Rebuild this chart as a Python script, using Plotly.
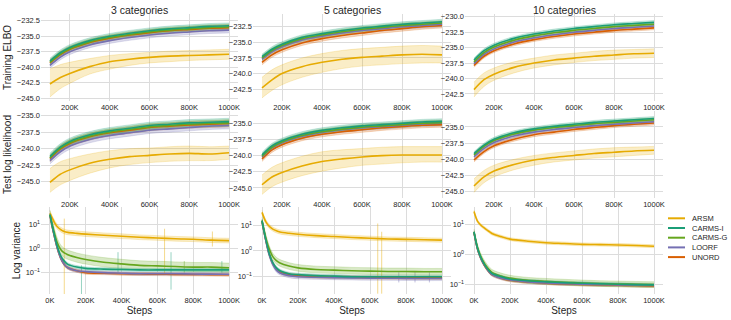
"""Training curves for five gradient estimators, 3 x 3 grid of panels."""

import plotly.graph_objects as go
from plotly.subplots import make_subplots

SERIES = ["ARSM", "CARMS-I", "CARMS-G", "LOORF", "UNORD"]
COLORS = ["#e6ab02", "#1b9e77", "#66a61e", "#7570b3", "#d95f02"]
FILLS = ["rgba(230,171,2,0.22)", "rgba(27,158,119,0.25)", "rgba(102,166,30,0.25)",
         "rgba(117,112,179,0.25)", "rgba(217,95,2,0.25)"]
COL_TITLES = ["3 categories", "5 categories", "10 categories"]
ROW_TITLES = ["Training ELBO", "Test log likelihood", "Log variance"]

# steps in thousands
STEPS_TOP = [100, 150, 200, 300, 400, 500, 600, 700, 800, 900, 1000]
STEPS_BOT = [0, 20, 40, 60, 80, 100, 150, 200, 300, 400, 500, 600, 700, 800, 900, 1000]

# ---- Training ELBO, 3 categories
elbo3_arsm = [-242.7, -241.7, -241.0, -239.9, -239.1, -238.7, -238.4, -238.2, -238.1, -238.0, -237.9]
elbo3_arsm_lo = [-244.8, -243.5, -242.6, -241.1, -240.3, -239.7, -239.3, -239.1, -238.9, -238.8, -238.7]
elbo3_arsm_hi = [-240.3, -239.6, -239.2, -238.6, -238.1, -237.8, -237.6, -237.4, -237.3, -237.2, -237.1]
elbo3_carms_i = [-239.0, -237.7, -236.8, -235.7, -235.0, -234.5, -234.1, -233.8, -233.6, -233.4, -233.3]
elbo3_carms_g = [-239.2, -237.9, -237.0, -235.9, -235.2, -234.7, -234.3, -234.0, -233.8, -233.6, -233.5]
elbo3_loorf = [-239.7, -238.4, -237.5, -236.4, -235.7, -235.2, -234.8, -234.5, -234.3, -234.1, -234.0]
elbo3_unord = [-239.3, -238.0, -237.1, -236.0, -235.3, -234.8, -234.4, -234.1, -233.9, -233.7, -233.6]
elbo3_band = 0.45

# ---- Training ELBO, 5 categories
elbo5_arsm = [-242.3, -241.0, -240.0, -238.9, -238.2, -237.7, -237.4, -237.2, -237.0, -236.9, -237.0]
elbo5_arsm_lo = [-243.9, -242.7, -241.8, -240.6, -239.8, -239.2, -238.8, -238.6, -238.4, -238.3, -238.3]
elbo5_arsm_hi = [-240.6, -239.4, -238.6, -237.5, -236.8, -236.3, -236.0, -235.8, -235.6, -235.5, -235.6]
elbo5_carms_i = [-237.3, -236.1, -235.3, -234.2, -233.6, -233.1, -232.7, -232.4, -232.1, -231.9, -231.7]
elbo5_carms_g = [-237.5, -236.3, -235.5, -234.4, -233.8, -233.3, -232.9, -232.6, -232.3, -232.1, -231.9]
elbo5_loorf = [-237.7, -236.5, -235.7, -234.6, -234.0, -233.5, -233.1, -232.8, -232.5, -232.3, -232.1]
elbo5_unord = [-238.2, -237.0, -236.2, -235.1, -234.4, -233.9, -233.5, -233.1, -232.8, -232.5, -232.3]
elbo5_band = 0.4

# ---- Training ELBO, 10 categories
elbo10_arsm = [-241.8, -240.2, -239.3, -238.2, -237.5, -237.0, -236.7, -236.4, -236.2, -236.0, -235.9]
elbo10_arsm_lo = [-243.0, -241.3, -240.3, -239.1, -238.3, -237.8, -237.4, -237.1, -236.9, -236.7, -236.6]
elbo10_arsm_hi = [-240.6, -239.1, -238.3, -237.3, -236.7, -236.2, -235.9, -235.6, -235.4, -235.3, -235.2]
elbo10_carms_i = [-237.0, -235.5, -234.6, -233.5, -232.8, -232.3, -231.9, -231.6, -231.3, -231.1, -230.9]
elbo10_carms_g = [-237.3, -235.8, -234.9, -233.8, -233.1, -232.6, -232.2, -231.9, -231.6, -231.4, -231.2]
elbo10_loorf = [-237.6, -236.1, -235.2, -234.1, -233.4, -232.9, -232.5, -232.2, -231.9, -231.7, -231.5]
elbo10_unord = [-237.9, -236.4, -235.5, -234.4, -233.7, -233.2, -232.8, -232.5, -232.2, -232.0, -231.8]
elbo10_band = 0.3

# ---- Test log likelihood, 3 categories
test3_arsm = [-245.1, -243.9, -243.2, -242.2, -241.6, -241.2, -241.0, -240.8, -240.7, -240.8, -240.6]
test3_arsm_lo = [-246.6, -245.5, -244.8, -243.7, -242.9, -242.4, -242.1, -241.9, -241.8, -241.8, -241.6]
test3_arsm_hi = [-243.0, -242.0, -241.5, -240.8, -240.3, -240.0, -239.9, -239.7, -239.6, -239.7, -239.6]
test3_carms_i = [-241.2, -239.8, -238.9, -237.9, -237.3, -236.9, -236.5, -236.3, -236.1, -236.0, -235.9]
test3_carms_g = [-241.4, -240.0, -239.1, -238.1, -237.5, -237.1, -236.7, -236.5, -236.3, -236.2, -236.1]
test3_loorf = [-241.8, -240.5, -239.6, -238.6, -238.0, -237.6, -237.2, -237.0, -236.8, -236.6, -236.5]
test3_unord = [-241.5, -240.1, -239.2, -238.2, -237.6, -237.2, -236.8, -236.6, -236.4, -236.3, -236.2]
test3_band = 0.5

# ---- Test log likelihood, 5 categories
test5_arsm = [-244.5, -243.3, -242.6, -241.6, -240.9, -240.5, -240.2, -240.0, -239.9, -239.9, -239.9]
test5_arsm_lo = [-246.0, -244.8, -244.1, -243.1, -242.4, -241.9, -241.5, -241.3, -241.1, -241.0, -241.0]
test5_arsm_hi = [-243.0, -241.8, -241.1, -240.1, -239.4, -239.1, -238.9, -238.7, -238.6, -238.6, -238.6]
test5_carms_i = [-239.9, -238.5, -237.7, -236.7, -236.1, -235.7, -235.4, -235.2, -235.0, -234.8, -234.7]
test5_carms_g = [-240.1, -238.7, -237.9, -236.9, -236.3, -235.9, -235.6, -235.4, -235.2, -235.0, -234.9]
test5_loorf = [-240.2, -238.8, -238.0, -237.0, -236.4, -236.0, -235.7, -235.5, -235.3, -235.1, -235.0]
test5_unord = [-240.5, -239.1, -238.3, -237.3, -236.7, -236.3, -236.0, -235.7, -235.5, -235.3, -235.2]
test5_band = 0.4

# ---- Test log likelihood, 10 categories
test10_arsm = [-244.1, -242.7, -241.8, -240.8, -240.1, -239.7, -239.4, -239.1, -238.9, -238.7, -238.6]
test10_arsm_lo = [-245.1, -243.6, -242.7, -241.6, -240.9, -240.4, -240.1, -239.8, -239.6, -239.4, -239.2]
test10_arsm_hi = [-243.0, -241.7, -240.9, -240.0, -239.4, -239.0, -238.7, -238.4, -238.2, -238.1, -238.0]
test10_carms_i = [-239.1, -237.8, -236.9, -235.9, -235.3, -234.9, -234.6, -234.3, -234.1, -233.9, -233.7]
test10_carms_g = [-239.3, -238.0, -237.1, -236.1, -235.5, -235.1, -234.8, -234.5, -234.3, -234.1, -233.9]
test10_loorf = [-239.6, -238.3, -237.4, -236.4, -235.8, -235.4, -235.1, -234.8, -234.6, -234.4, -234.2]
test10_unord = [-240.1, -238.8, -237.9, -236.9, -236.2, -235.8, -235.4, -235.1, -234.8, -234.6, -234.4]
test10_band = 0.3

# ---- Log variance, 3 categories
var3_arsm = [28, 14, 8, 6, 5, 4.6, 4.2, 3.9, 3.5, 3.2, 2.9, 2.7, 2.5, 2.4, 2.2, 2.1]
var3_carms_i = [25, 5, 1.3, 0.5, 0.3, 0.22, 0.17, 0.15, 0.14, 0.135, 0.13, 0.13, 0.13, 0.13, 0.13, 0.13]
var3_carms_g = [25, 6, 1.8, 0.9, 0.65, 0.55, 0.42, 0.35, 0.27, 0.23, 0.2, 0.19, 0.18, 0.17, 0.17, 0.16]
var3_loorf = [24, 4.5, 1.1, 0.4, 0.22, 0.16, 0.12, 0.11, 0.1, 0.095, 0.09, 0.09, 0.09, 0.088, 0.087, 0.086]
var3_unord = [24, 4.5, 1.1, 0.4, 0.22, 0.16, 0.12, 0.1, 0.095, 0.09, 0.088, 0.087, 0.085, 0.084, 0.083, 0.082]
var3_spread = [1.25, 1.15, 1.55, 1.15, 1.15]
var3_spike_x = [80, 176, 380, 640, 676, 750, 907, 960]
var3_spike_lo = [0.012, 0.012, 0.1, 0.09, 0.02, 0.1, 1.2, 0.1]
var3_spike_hi = [17, 0.2, 0.7, 6.5, 0.7, 0.3, 5.0, 0.3]
var3_spike_series = [0, 1, 1, 0, 1, 2, 0, 1]

# ---- Log variance, 5 categories
var5_arsm = [31, 14, 9, 7, 6, 5.4, 4.8, 4.4, 3.9, 3.6, 3.3, 3.1, 2.9, 2.8, 2.7, 2.6]
var5_carms_i = [15, 3, 0.8, 0.35, 0.22, 0.17, 0.13, 0.12, 0.11, 0.105, 0.1, 0.1, 0.1, 0.1, 0.1, 0.1]
var5_carms_g = [15, 3.5, 1.2, 0.6, 0.42, 0.34, 0.26, 0.22, 0.19, 0.18, 0.17, 0.165, 0.16, 0.16, 0.155, 0.155]
var5_loorf = [14, 2.8, 0.7, 0.3, 0.18, 0.14, 0.11, 0.1, 0.095, 0.092, 0.09, 0.088, 0.087, 0.086, 0.085, 0.085]
var5_unord = [14, 2.8, 0.75, 0.32, 0.2, 0.15, 0.12, 0.11, 0.1, 0.097, 0.095, 0.093, 0.092, 0.091, 0.09, 0.09]
var5_spread = [1.2, 1.15, 1.35, 1.2, 1.15]
var5_spike_x = [643, 665, 760, 850, 930]
var5_spike_lo = [0.022, 0.022, 0.06, 0.06, 0.06]
var5_spike_hi = [11.5, 5.5, 0.15, 0.15, 0.15]
var5_spike_series = [0, 0, 3, 3, 3]

# ---- Log variance, 10 categories
var10_arsm = [28, 13, 9.5, 7.6, 6.2, 5.1, 4.0, 3.3, 2.8, 2.5, 2.35, 2.2, 2.15, 2.1, 2.0, 1.9]
var10_carms_i = [5.8, 1.6, 0.75, 0.44, 0.3, 0.23, 0.18, 0.15, 0.13, 0.12, 0.113, 0.108, 0.103, 0.1, 0.097, 0.095]
var10_carms_g = [5.8, 1.7, 0.8, 0.48, 0.33, 0.25, 0.19, 0.16, 0.135, 0.125, 0.117, 0.11, 0.105, 0.102, 0.099, 0.097]
var10_loorf = [5.5, 1.5, 0.7, 0.42, 0.28, 0.21, 0.16, 0.14, 0.12, 0.11, 0.104, 0.1, 0.097, 0.095, 0.092, 0.09]
var10_unord = [5.5, 1.5, 0.7, 0.41, 0.28, 0.21, 0.16, 0.135, 0.118, 0.108, 0.102, 0.098, 0.095, 0.093, 0.09, 0.088]
var10_spread = [1.12, 1.12, 1.25, 1.12, 1.12]

# axis ranges
Y_RANGES = [
    [[-245.45, -231.4], [-244.4, -230.45], [-243.65, -229.55]],
    [[-247.45, -234.3], [-246.55, -233.1], [-245.95, -232.55]],
    [[-1.88, 1.71], [-1.67, 1.7], [-1.33, 1.6]],
]

W, H = 731, 320
COL_PX = [(41, 238), (253, 451), (465, 663)]
ROW_PX = [(14, 101), (111, 198), (207, 294)]

FONT = "Liberation Sans, Arial, sans-serif"
TEXT = "#262626"
GRID = "#dcdcdc"


def rgba_line(hex_color, alpha):
    h = hex_color.lstrip("#")
    r, g, b = int(h[0:2], 16), int(h[2:4], 16), int(h[4:6], 16)
    return f"rgba({r},{g},{b},{alpha})"


top_panels = [
    [(elbo3_arsm, elbo3_arsm_lo, elbo3_arsm_hi),
     [elbo3_carms_i, elbo3_carms_g, elbo3_loorf, elbo3_unord], elbo3_band],
    [(elbo5_arsm, elbo5_arsm_lo, elbo5_arsm_hi),
     [elbo5_carms_i, elbo5_carms_g, elbo5_loorf, elbo5_unord], elbo5_band],
    [(elbo10_arsm, elbo10_arsm_lo, elbo10_arsm_hi),
     [elbo10_carms_i, elbo10_carms_g, elbo10_loorf, elbo10_unord], elbo10_band],
    [(test3_arsm, test3_arsm_lo, test3_arsm_hi),
     [test3_carms_i, test3_carms_g, test3_loorf, test3_unord], test3_band],
    [(test5_arsm, test5_arsm_lo, test5_arsm_hi),
     [test5_carms_i, test5_carms_g, test5_loorf, test5_unord], test5_band],
    [(test10_arsm, test10_arsm_lo, test10_arsm_hi),
     [test10_carms_i, test10_carms_g, test10_loorf, test10_unord], test10_band],
]

var_panels = [
    ([var3_arsm, var3_carms_i, var3_carms_g, var3_loorf, var3_unord], var3_spread,
     (var3_spike_x, var3_spike_lo, var3_spike_hi, var3_spike_series)),
    ([var5_arsm, var5_carms_i, var5_carms_g, var5_loorf, var5_unord], var5_spread,
     (var5_spike_x, var5_spike_lo, var5_spike_hi, var5_spike_series)),
    ([var10_arsm, var10_carms_i, var10_carms_g, var10_loorf, var10_unord], var10_spread,
     None),
]

fig = make_subplots(rows=3, cols=3)

# draw order: ARSM first, then UNORD, LOORF, CARMS-G and CARMS-I on top
DRAW_ORDER = [0, 4, 3, 2, 1]


def add_band(x, lo, hi, idx, row, col):
    fig.add_trace(go.Scatter(x=x, y=lo, mode="lines",
                             line=dict(width=0.6, color=rgba_line(COLORS[idx], 0.35), shape="spline"),
                             hoverinfo="skip", showlegend=False), row=row, col=col)
    fig.add_trace(go.Scatter(x=x, y=hi, mode="lines", fill="tonexty", fillcolor=FILLS[idx],
                             line=dict(width=0.6, color=rgba_line(COLORS[idx], 0.35), shape="spline"),
                             hoverinfo="skip", showlegend=False), row=row, col=col)


def add_line(x, y, idx, row, col):
    fig.add_trace(go.Scatter(x=x, y=y, mode="lines", name=SERIES[idx],
                             line=dict(width=1.6, color=COLORS[idx], shape="spline", smoothing=0.8),
                             showlegend=False), row=row, col=col)


# rows 1-2
for k, (arsm, others, band) in enumerate(top_panels):
    row, col = k // 3 + 1, k % 3 + 1
    mean, lo, hi = arsm
    add_band(STEPS_TOP, lo, hi, 0, row, col)
    add_line(STEPS_TOP, mean, 0, row, col)
    for idx in DRAW_ORDER[1:]:
        y = others[idx - 1]
        add_band(STEPS_TOP, [v - band for v in y], [v + band for v in y], idx, row, col)
    for idx in DRAW_ORDER[1:]:
        add_line(STEPS_TOP, others[idx - 1], idx, row, col)

# row 3
for c, (curves, spread, spikes) in enumerate(var_panels):
    col = c + 1
    if spikes is not None:
        sx, slo, shi, sser = spikes
        for x0, y0, y1, s in zip(sx, slo, shi, sser):
            fig.add_trace(go.Scatter(x=[x0, x0], y=[y0, y1], mode="lines",
                                     line=dict(width=1, color=rgba_line(COLORS[s], 0.45)),
                                     hoverinfo="skip", showlegend=False), row=3, col=col)
    for idx in DRAW_ORDER:
        y = curves[idx]
        add_band(STEPS_BOT, [v / spread[idx] for v in y], [v * spread[idx] for v in y], idx, 3, col)
    for idx in DRAW_ORDER:
        add_line(STEPS_BOT, curves[idx], idx, 3, col)

# axes
for r in range(3):
    for c in range(3):
        x0, x1 = COL_PX[c]
        y0, y1 = ROW_PX[r]
        xaxis = dict(domain=[x0 / W, x1 / W], showgrid=True, gridcolor=GRID, gridwidth=1,
                     zeroline=False, showline=False, ticks="", dtick=200, tick0=0,
                     ticksuffix="K", tickfont=dict(size=7.5, color=TEXT), automargin=False)
        if r < 2:
            xaxis["range"] = [55, 1045]
        else:
            xaxis["range"] = [-50, 1050]
            xaxis["title"] = dict(text="Steps", font=dict(size=10, color=TEXT), standoff=2)
        fig.update_xaxes(row=r + 1, col=c + 1, **xaxis)

        yaxis = dict(domain=[1 - y1 / H, 1 - y0 / H], showgrid=True, gridcolor=GRID, gridwidth=1,
                     zeroline=False, showline=False, ticks="", range=Y_RANGES[r][c],
                     tickfont=dict(size=7.5, color=TEXT), automargin=False)
        if r < 2:
            yaxis.update(dtick=2.5, tick0=0, tickformat=".1f")
        else:
            yaxis.update(type="log", tickvals=[0.1, 1, 10],
                         ticktext=["10<sup>−1</sup>", "10<sup>0</sup>", "10<sup>1</sup>"])
        if c == 0:
            yaxis["title"] = dict(text=ROW_TITLES[r], font=dict(size=10, color=TEXT), standoff=3)
        fig.update_yaxes(row=r + 1, col=c + 1, **yaxis)

annotations = []
for c, title in enumerate(COL_TITLES):
    x0, x1 = COL_PX[c]
    annotations.append(dict(text=title, x=(x0 + x1) / 2 / W, y=1 - 10 / H, xref="paper", yref="paper",
                            xanchor="center", yanchor="middle", showarrow=False,
                            font=dict(size=10.5, color=TEXT)))

# hand-made legend (compact spacing like the original)
shapes = []
LEGEND_Y = [218.3, 228, 237.7, 247.4, 257.1]
for i, name in enumerate(SERIES):
    yp = 1 - LEGEND_Y[i] / H
    shapes.append(dict(type="line", xref="paper", yref="paper", x0=668 / W, x1=685 / W,
                       y0=yp, y1=yp, line=dict(color=COLORS[i], width=2)))
    annotations.append(dict(text=name, x=690 / W, y=yp, xref="paper", yref="paper",
                            xanchor="left", yanchor="middle", showarrow=False,
                            font=dict(size=7.5, color=TEXT)))

fig.update_layout(
    width=W,
    height=H,
    margin=dict(l=0, r=0, t=0, b=0),
    paper_bgcolor="white",
    plot_bgcolor="white",
    font=dict(family=FONT, color=TEXT),
    showlegend=False,
    annotations=annotations,
    shapes=shapes,
)

# drop the default page margin so the figure fills the window exactly
fig.write_html(
    "out.html",
    config={"displayModeBar": False},
    post_script="document.body.style.margin='0';document.body.style.overflow='hidden';",
)
